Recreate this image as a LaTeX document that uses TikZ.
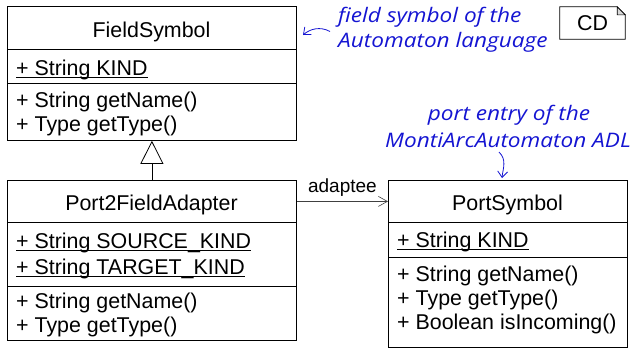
\documentclass[tikz,border=0pt]{standalone}
\usepackage{fontspec}
\setmainfont{Liberation Sans}
\newfontfamily\notefont{Open Sans}[FakeStretch=1.13]
\usetikzlibrary{arrows.meta}
\definecolor{noteblue}{RGB}{20,20,210}
\newcommand{\ulx}[1]{\setbox0\hbox{#1}\rlap{\rule[-3pt]{\wd0}{1.1pt}}\box0}
\begin{document}
\begin{tikzpicture}[x=1pt,y=-1pt,
 comp/.style={draw, line width=0.8pt, inner sep=0pt, anchor=north west},
 txt/.style={anchor=base west, inner sep=0pt, font=\fontsize{21.4}{24}\selectfont},
 ttl/.style={anchor=base, inner sep=0pt, font=\fontsize{21.4}{24}\selectfont},
 note/.style={anchor=base west, inner sep=0pt, text=noteblue, font=\notefont\itshape\fontsize{20}{23}\selectfont},
 notearrow/.style={noteblue, line width=0.8pt, -{Straight Barb[length=6pt,width=10pt]}}]
\useasboundingbox (0,0) rectangle (634,349);
% FieldSymbol
\node[comp, minimum width=289pt, minimum height=43pt] (fshead) at (7,6) {};
\node[comp, minimum width=289pt, minimum height=34pt] (fsattr) at (7,49) {};
\node[comp, minimum width=289pt, minimum height=57pt] (fsmeth) at (7,83) {};
\node[ttl] (fsname) at (151.5,37) {FieldSymbol};
\node[txt] (fskind) at (16,75) {\ulx{+ String KIND}};
\node[txt] (fsm1) at (16,107) {+ String getName()};
\node[txt] (fsm2) at (16,131) {+ Type getType()};
% Port2FieldAdapter
\node[comp, minimum width=289pt, minimum height=42pt] (p2fhead) at (7,180) {};
\node[comp, minimum width=289pt, minimum height=64pt] (p2fattr) at (7,222) {};
\node[comp, minimum width=289pt, minimum height=54pt] (p2fmeth) at (7,286) {};
\node[ttl] (p2fname) at (151.5,210) {Port2FieldAdapter};
\node[txt] (p2fa1) at (16,248) {\ulx{+ String SOURCE\_KIND}};
\node[txt] (p2fa2) at (16,274) {\ulx{+ String TARGET\_KIND}};
\node[txt] (p2fm1) at (16,308) {+ String getName()};
\node[txt] (p2fm2) at (16,332) {+ Type getType()};
% PortSymbol
\node[comp, minimum width=239pt, minimum height=42pt] (pshead) at (388,180) {};
\node[comp, minimum width=239pt, minimum height=35pt] (psattr) at (388,222) {};
\node[comp, minimum width=239pt, minimum height=90pt] (psmeth) at (388,257) {};
\node[ttl] (psname) at (507.5,210) {PortSymbol};
\node[txt] (pskind) at (397,247) {\ulx{+ String KIND}};
\node[txt] (psm1) at (397,281) {+ String getName()};
\node[txt] (psm2) at (397,305) {+ Type getType()};
\node[txt] (psm3) at (397,329) {+ Boolean isIncoming()};
% connectors
\draw[line width=0.8pt, -{Triangle[open, length=23pt, width=23pt]}] (p2fhead.north) -- (fsmeth.south);
\draw[black!75, line width=0.6pt, -{Straight Barb[length=9pt, width=10pt]}] (p2fhead.east) -- (pshead.west)
  node[pos=0.5, anchor=base, yshift=9pt, inner sep=0pt, text=black, font=\fontsize{19}{22}\selectfont] (adlbl) {adaptee};
% CD tag
\node[inner sep=0pt, minimum width=65pt, minimum height=32pt, font=\fontsize{21.4}{24}\selectfont] (cd) at (592.5,23) {CD};
\draw[line width=0.8pt] (cd.north west) -- ([xshift=-8pt]cd.north east) -- ([yshift=-8pt]cd.north east) -- (cd.south east) -- (cd.south west) -- cycle;
\draw[line width=0.6pt, fill=black!15] ([xshift=-8pt]cd.north east) -- ([xshift=-8pt,yshift=-8pt]cd.north east) -- ([yshift=-8pt]cd.north east) -- cycle;
% notes
\node[note] (n1a) at (338,22) {field symbol of the};
\node[note] (n1b) at (338,47) {Automaton language};
\node[note, anchor=base] (n2a) at (509,120) {port entry of the};
\node[note, anchor=base] (n2b) at (508,147) {MontiArcAutomaton ADL};
\coordinate (a1s) at (330,31.5);
\coordinate (a1e) at (303,35);
\draw[notearrow] (a1s) .. controls (320,26) and (310,29) .. (a1e);
\coordinate (a2s) at (499,152);
\coordinate (a2e) at (502,178);
\draw[notearrow] (a2s) .. controls (507,160) and (503,168) .. (a2e);
\end{tikzpicture}
\end{document}
